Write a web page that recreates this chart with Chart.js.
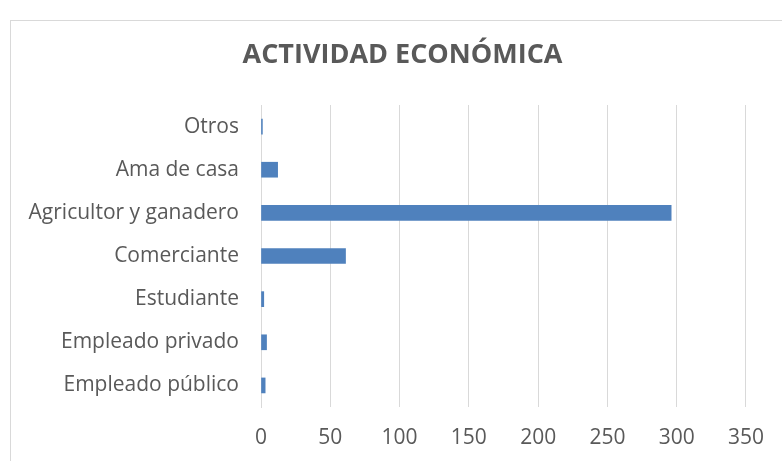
<!DOCTYPE html>
<html>
<head>
<meta charset="utf-8">
<script src="https://cdn.jsdelivr.net/npm/chart.js@4.4.1/dist/chart.umd.min.js"></script>
<style>
  html, body { margin: 0; padding: 0; background: #fff; overflow: hidden; }
  #frame { position: absolute; left: 10px; top: 20px; width: 800px; height: 500px; border: 1px solid #d9d9d9; }
  #wrap { position: absolute; left: 0; top: 0; width: 782px; height: 461px; }
</style>
</head>
<body>
<div id="frame"></div>
<div id="wrap"><canvas id="chart" width="782" height="461"></canvas></div>
<script>
// categories, top to bottom as drawn
const categories = [
  "Otros",
  "Ama de casa",
  "Agricultor y ganadero",
  "Comerciante",
  "Estudiante",
  "Empleado privado",
  "Empleado público",
];
const counts = [1, 12, 296, 61, 2, 4, 3];
const xTicks = [0, 50, 100, 150, 200, 250, 300, 350];
const TITLE = "ACTIVIDAD ECONÓMICA";

const INK = "#595959";
const GRID = "#d9d9d9";
const BAR = "#4f81bd";
const FONT = "'Open Sans', Lato, sans-serif";

// The chart title sits centred on the outer frame, not on the canvas,
// so draw it ourselves instead of using the built-in title plugin
const frameTitle = {
  id: "frameTitle",
  afterDraw(chart) {
    const ctx = chart.ctx;
    ctx.save();
    ctx.fillStyle = INK;
    ctx.font = `bold 27px ${FONT}`;
    ctx.textAlign = "center";
    ctx.textBaseline = "middle";
    ctx.fillText(TITLE, 402.5, 55);
    ctx.restore();
  },
};

new Chart(document.getElementById("chart"), {
  type: "bar",
  data: {
    labels: categories,
    datasets: [
      {
        data: counts,
        backgroundColor: BAR,
        borderWidth: 0,
        barThickness: 15,
      },
    ],
  },
  plugins: [frameTitle],
  options: {
    indexAxis: "y",
    responsive: false,
    animation: false,
    layout: { padding: { top: 105, right: 36, bottom: 0, left: 0 } },
    plugins: {
      legend: { display: false },
      tooltip: { enabled: false },
    },
    scales: {
      x: {
        min: 0,
        max: 350,
        afterBuildTicks: (scale) => {
          scale.ticks = xTicks.map((v) => ({ value: v }));
        },
        afterFit: (scale) => {
          scale.height = 54;
        },
        grid: { color: GRID, drawTicks: false },
        border: { display: false },
        ticks: {
          color: INK,
          padding: 18,
          font: { family: FONT, size: 21 },
        },
      },
      y: {
        afterFit: (scale) => {
          scale.width = 261;
        },
        grid: { display: false, drawTicks: false },
        border: { color: GRID, width: 1 },
        ticks: {
          color: INK,
          padding: 22,
          font: { family: FONT, size: 21 },
        },
      },
    },
  },
});
</script>
</body>
</html>
